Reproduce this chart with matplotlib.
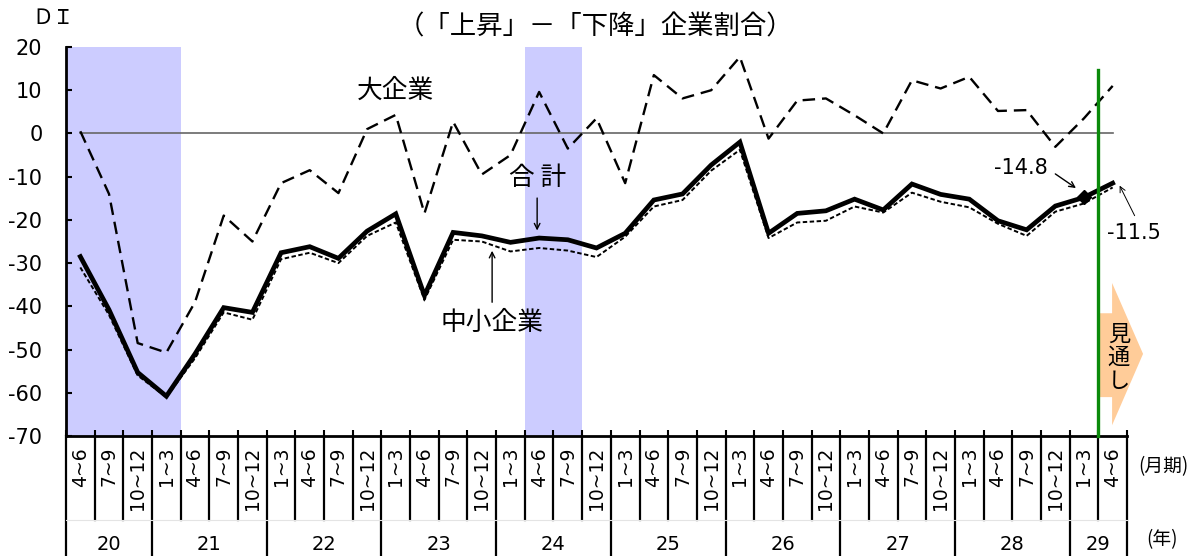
import matplotlib
matplotlib.use("Agg")
import matplotlib.pyplot as plt
import numpy as np
from matplotlib.patches import Polygon
import matplotlib.transforms as mtransforms

plt.rcParams['font.family'] = ['DejaVu Sans', 'Noto Sans CJK JP']
plt.rcParams['lines.scale_dashes'] = False

JP = ['Noto Sans CJK JP', 'DejaVu Sans']

# ---- data ----
years = ['20', '21', '22', '23', '24', '25', '26', '27', '28', '29']
year_counts = [3, 4, 4, 4, 4, 4, 4, 4, 4, 2]
quarters = (['4~6', '7~9', '10~12'] + ['1~3', '4~6', '7~9', '10~12'] * 8 + ['1~3', '4~6'])

large = [0.5, -14, -48.5, -50.7, -39, -19, -25, -11.5, -8.5, -13.8, 1, 4.3, -18.5,
         2.7, -9.5, -5, 9.6, -3.5, 3.5, -11.5, 13.5, 8.1, 10, 17.7, -1.2, 7.6, 8.1,
         4.2, 0, 12.3, 10.4, 13.1, 5.2, 5.4, -3.1, 3.5, 11]
total = [-28.5, -40.8, -55.3, -60.8, -51, -40.3, -41.4, -27.6, -26.2, -28.9, -22.6,
         -18.6, -37.5, -22.9, -23.7, -25.2, -24.2, -24.6, -26.5, -23.1, -15.4, -14.0,
         -7.3, -2.0, -23.1, -18.5, -17.9, -15.2, -17.7, -11.7, -14.1, -15.2, -20.2,
         -22.3, -16.8, -14.8, -11.5]
sme = [-31, -42, -56, -61, -52, -41.4, -43.1, -29.1, -27.6, -30, -23.7, -20.6, -38.5,
       -24.6, -25, -27.3, -26.5, -27.1, -28.6, -23.9, -16.9, -15.4, -8.6, -3.8, -24.2,
       -20.6, -20.2, -16.9, -18.3, -13.7, -15.8, -17.1, -20.9, -23.7, -18.1, -16.2, -12.5]

shade_spans = [(0, 4), (16, 18)]   # recession periods (category index ranges)
forecast_boundary = 35             # index of last actual quarter

n = len(quarters)
x = np.arange(n) + 0.5

W, H = 1197, 556
fig = plt.figure(figsize=(W / 100, H / 100), dpi=100)
ax = fig.add_axes([66 / W, (H - 436) / H, (1127 - 66) / W, (436 - 47) / H])

ax.set_xlim(0, n)
ax.set_ylim(-70, 20)

for a, b in shade_spans:
    ax.axvspan(a, b, color='#CCCCFF', lw=0, zorder=0)

ax.plot(x, np.zeros(n), color='#666666', lw=1.2, zorder=1)
ax.plot(x, large, color='black', lw=1.7, linestyle=(0, (9, 5)), zorder=3)
ax.plot(x, sme, color='black', lw=1.4, linestyle=(0, (3.2, 1.8)), zorder=3)
ax.plot(x, total, color='black', lw=3.4, solid_joinstyle='miter', zorder=4)
ax.plot([x[forecast_boundary]], [total[forecast_boundary]], marker='D', ms=7,
        color='black', zorder=5)

# forecast line
ax.plot([forecast_boundary + 1, forecast_boundary + 1], [14.6, -70], color='#0A8A0A',
        lw=2.4, zorder=6, clip_on=False)

# forecast arrow
xb0 = forecast_boundary + 1
arrow = Polygon([(xb0, -41.6), (xb0 + 0.48, -41.6), (xb0 + 0.48, -34.6),
                 (xb0 + 1.56, -51.0), (xb0 + 0.48, -67.5), (xb0 + 0.48, -61.0),
                 (xb0, -61.0)], closed=True, facecolor='#FFCC99', edgecolor='none',
                zorder=2, clip_on=False)
ax.add_patch(arrow)
ax.text(xb0 + 0.72, -51.8, '見\n通\nし', family=JP, fontsize=16, ha='center',
        va='center', linespacing=1.0, zorder=7)

# spines & ticks
for s in ['top', 'right']:
    ax.spines[s].set_visible(False)
ax.spines['left'].set_linewidth(2)
ax.spines['bottom'].set_linewidth(2)
ax.set_yticks(np.arange(-70, 21, 10))
ax.set_yticklabels([str(v) for v in range(-70, 21, 10)], fontsize=15)
ax.tick_params(axis='y', direction='in', length=4, width=1.5, pad=17)
ax.set_xticks(np.arange(0, n + 1))
ax.set_xticklabels([])
ax.tick_params(axis='x', direction='in', length=4, width=1.5)

# category table below axis
trans = mtransforms.blended_transform_factory(ax.transData, ax.transAxes)
ax_h = 436 - 47
y_q = -(520 - 436) / ax_h
y_bot = -(556 - 436) / ax_h
year_bounds = np.concatenate([[0], np.cumsum(year_counts)])
for b in range(n + 1):
    yend = y_bot if b in year_bounds else y_q
    ax.plot([b, b], [0, yend], color='black', lw=1.6, transform=trans, clip_on=False)
ax.plot([0, n], [y_q, y_q], color='#E4E4E4', lw=0.8, transform=trans, clip_on=False)
for i, q in enumerate(quarters):
    ax.text(i + 0.5, -(447 - 436) / ax_h, q, rotation=90, ha='center', va='top',
            fontsize=13.5, transform=trans)
for k, yr in enumerate(years):
    cx = (year_bounds[k] + year_bounds[k + 1]) / 2
    ax.text(cx, -(545 - 436) / ax_h, yr, ha='center', va='center', fontsize=14,
            transform=trans)

fig.text(1163 / W, 1 - 467 / H, '(月期)', family=JP, fontsize=13.5, ha='center', va='center')
fig.text(1162 / W, 1 - 540 / H, '(年)', family=JP, fontsize=13.5, ha='center', va='center')

# titles
fig.text(595 / W, 1 - 27 / H, '（「上昇」－「下降」企業割合）', family=JP, fontsize=19,
         ha='center', va='center')
fig.text(53 / W, 1 - 18 / H, 'ＤＩ', family=JP, fontsize=15, ha='center', va='center')

# series labels & annotations
ax.text(11.5, 9.8, '大企業', family=JP, fontsize=18.5, ha='center', va='center')
ax.text(16.43, -10.4, '合 計', family=JP, fontsize=18.5, ha='center', va='center')
ax.annotate('', xy=(16.43, -23.1), xytext=(16.43, -14.3),
            arrowprops=dict(arrowstyle='->', color='black', lw=1.0))
ax.text(14.86, -43.8, '中小企業', family=JP, fontsize=18.5, ha='center', va='center')
ax.annotate('', xy=(14.86, -26.5), xytext=(14.86, -39.7),
            arrowprops=dict(arrowstyle='->', color='black', lw=1.0))
ax.text(33.3, -8.0, '-14.8', fontsize=15, ha='center', va='center')
ax.annotate('', xy=(35.3, -13.0), xytext=(34.42, -9.0),
            arrowprops=dict(arrowstyle='->', color='black', lw=1.0))
ax.text(37.24, -23.1, '-11.5', fontsize=15, ha='center', va='center')
ax.annotate('', xy=(36.7, -11.5), xytext=(37.31, -19.6), annotation_clip=False,
            arrowprops=dict(arrowstyle='->', color='black', lw=0.7))

fig.savefig('out.png', dpi=100)
